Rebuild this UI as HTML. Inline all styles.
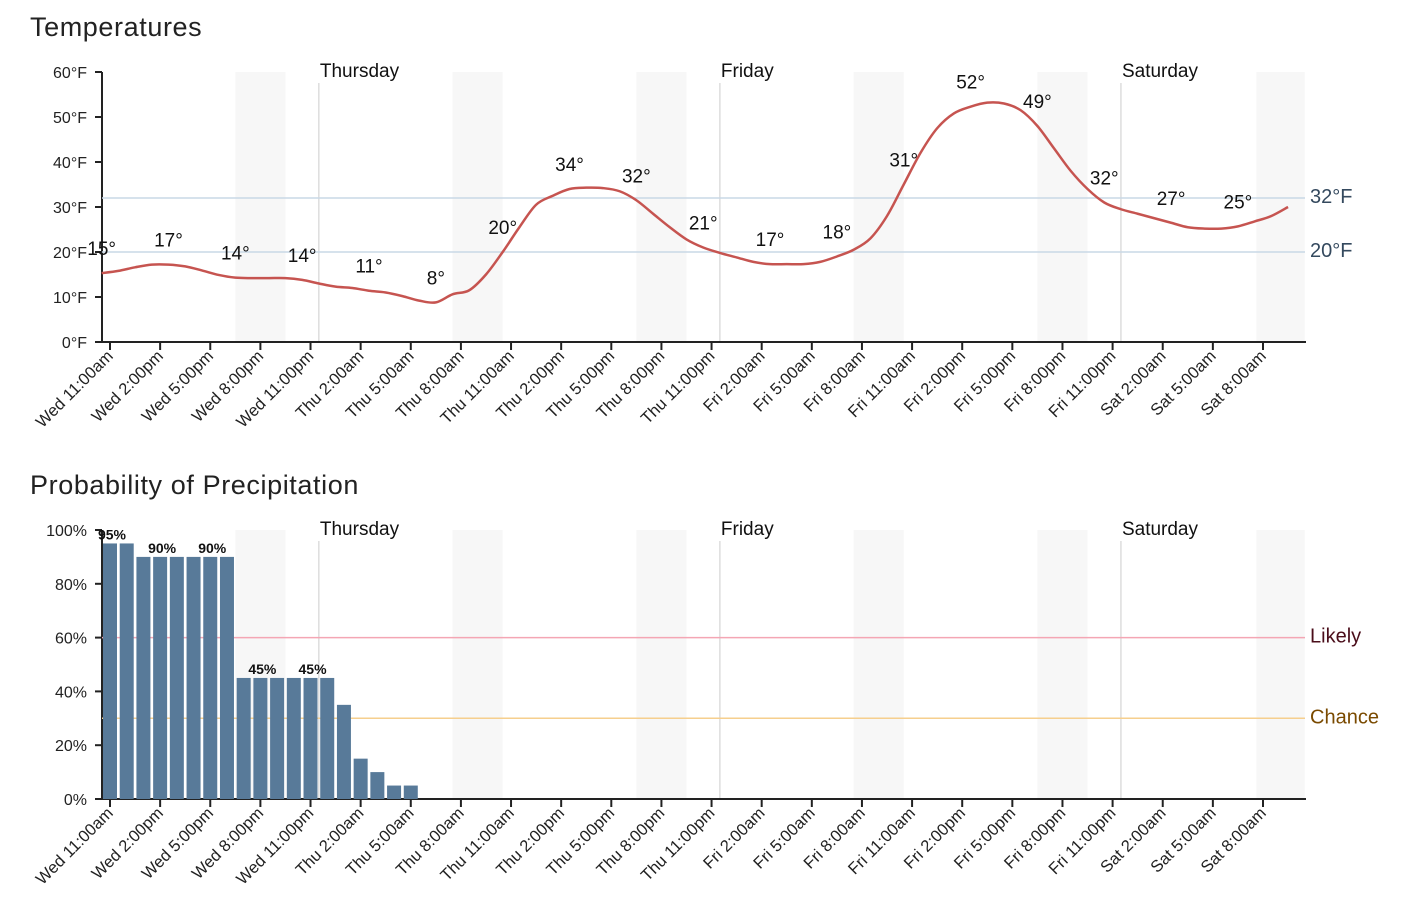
<!DOCTYPE html>
<html><head><meta charset="utf-8"><style>
body{margin:0;background:#fff;width:1404px;height:908px;overflow:hidden;font-family:"Liberation Sans",sans-serif}
svg text{font-family:"Liberation Sans",sans-serif}
</style></head><body>
<svg id="s" width="1404" height="908"></svg>
<script>
const temps=[15.3,15.8,16.6,17.2,17.2,16.8,15.9,14.9,14.3,14.2,14.2,14.2,13.8,13,12.3,12,11.4,11,10.2,9.2,8.8,10.6,11.5,15,20,25.5,30.5,32.5,34,34.3,34.2,33.5,31.5,28.5,25.5,22.8,21,19.8,18.8,17.8,17.3,17.3,17.3,17.8,19,20.5,23,28,35,42,47.5,50.8,52.3,53.2,53,51.5,48,43,38,34,31,29.5,28.5,27.5,26.5,25.5,25.2,25.2,25.7,26.8,28,30];
const tempLabels=[15,17,14,14,11,8,20,34,32,21,17,18,31,52,49,32,27,25];
const precip=[95,95,90,90,90,90,90,90,45,45,45,45,45,45,35,15,10,5,5];
const precipLabels={0:"95%",3:"90%",6:"90%",9:"45%",12:"45%"};
const tickLabels=["Wed 11:00am","Wed 2:00pm","Wed 5:00pm","Wed 8:00pm","Wed 11:00pm","Thu 2:00am","Thu 5:00am","Thu 8:00am","Thu 11:00am","Thu 2:00pm","Thu 5:00pm","Thu 8:00pm","Thu 11:00pm","Fri 2:00am","Fri 5:00am","Fri 8:00am","Fri 11:00am","Fri 2:00pm","Fri 5:00pm","Fri 8:00pm","Fri 11:00pm","Sat 2:00am","Sat 5:00am","Sat 8:00am"];
const shades=[[7.5,10.5],[20.5,23.5],[31.5,34.5],[44.5,47.5],[55.5,58.5],[68.6,71.5]];
const days=[["Thursday",12.5],["Friday",36.5],["Saturday",60.5]];
const tempTicks=[0,10,20,30,40,50,60];
const precipTicks=[0,20,40,60,80,100];

const S=document.getElementById('s');const NS='http://www.w3.org/2000/svg';
function el(t,a,p){const e=document.createElementNS(NS,t);for(const k in a)e.setAttribute(k,a[k]);(p||S).appendChild(e);return e;}
const X0=102,X1=1305;
const x=h=>110+16.71*h;

function frame(top,bot,title,titleY){
  const t=el('text',{x:30,y:titleY,'font-size':27,fill:'#222','letter-spacing':'0.6'});t.textContent=title;
  
  
  shades.forEach(s=>{const r=el('rect',{x:x(s[0]),y:top,width:x(s[1])-x(s[0]),height:bot-top,fill:'#f7f7f7'});
    
    });
  days.forEach(d=>{const l=el('line',{x1:x(d[1]),x2:x(d[1]),y1:top+11,y2:bot,stroke:'#ccc'});
    
    
    const tx=el('text',{x:x(d[1])+1,y:top+5,'font-size':19,fill:'#111'});tx.textContent=d[0];
    
    });
  tickLabels.forEach((lb,i)=>{const xx=x(i*3);
    el('line',{x1:xx,x2:xx,y1:bot,y2:bot+8,stroke:'#222','stroke-width':2});
    const tx=el('text',{transform:`translate(${xx+4},${bot+15}) rotate(-45)`,'text-anchor':'end','font-size':16.5,fill:'#222'});tx.textContent=lb;
    
    });
  el('line',{x1:X0,x2:X0,y1:top,y2:bot+1,stroke:'#222','stroke-width':2});
  const ax=el('line',{x1:X0-1,x2:X1+1,y1:bot,y2:bot,stroke:'#222','stroke-width':2});
  
  
}
// Temperature chart
const tT=72,tB=342,ty=v=>tB-(v/60)*(tB-tT);
frame(tT,tB,'Temperatures',36);
tempTicks.forEach(v=>{el('line',{x1:X0-7,x2:X0,y1:ty(v),y2:ty(v),stroke:'#222','stroke-width':2});
  const t=el('text',{x:X0-15,y:ty(v)+6,'text-anchor':'end','font-size':16,fill:'#222'});t.textContent=v+'°F';
  
  });
[[32,'32°F'],[20,'20°F']].forEach(r=>{const l=el('line',{x1:X0,x2:X1,y1:ty(r[0]),y2:ty(r[0]),stroke:'#c9d8e6','stroke-width':1.5});
  
  
  const t=el('text',{x:1310,y:ty(r[0])+5,'font-size':20,fill:'#34495e'});t.textContent=r[1];
  
  });
let pts=temps.map((v,i)=>[x(i-0.5),ty(v)]);
let d='M'+pts[0];
for(let i=1;i<pts.length;i++){const p0=pts[Math.max(0,i-2)],p1=pts[i-1],p2=pts[i],p3=pts[Math.min(pts.length-1,i+1)];
  d+=`C${p1[0]+(p2[0]-p0[0])/6},${p1[1]+(p2[1]-p0[1])/6} ${p2[0]-(p3[0]-p1[0])/6},${p2[1]-(p3[1]-p1[1])/6} ${p2[0]},${p2[1]}`;}
const line=el('path',{d:d,fill:'none',stroke:'#c65450','stroke-width':2.5});


tempLabels.forEach((v,k)=>{const i=k*4;const t=el('text',{x:x(i-0.5),y:ty(temps[i])-18,'text-anchor':'middle','font-size':19,fill:'#111'});t.textContent=v+'°';
  
  });
// Precip chart
const pT=530,pB=799,py=v=>pB-(v/100)*(pB-pT);
frame(pT,pB,'Probability of Precipitation',494);
precipTicks.forEach(v=>{el('line',{x1:X0-7,x2:X0,y1:py(v),y2:py(v),stroke:'#222','stroke-width':2});
  const t=el('text',{x:X0-15,y:py(v)+6,'text-anchor':'end','font-size':16,fill:'#222'});t.textContent=v+'%';
  
  });
[[60,'Likely','#f4a6b4','#4a0d1a'],[30,'Chance','#f6cf8e','#7a4a00']].forEach(r=>{const l=el('line',{x1:X0,x2:X1,y1:py(r[0]),y2:py(r[0]),stroke:r[2],'stroke-width':1.5});
  
  
  const t=el('text',{x:1310,y:py(r[0])+5,'font-size':20,fill:r[3]});t.textContent=r[1];
  
  });
precip.forEach((v,i)=>{const b=el('rect',{x:x(i)-7,y:py(v),width:14,height:pB-py(v),fill:'#587a99'});
  
  
  if(precipLabels[i]){const t=el('text',{x:x(i)+2,y:py(v)-4,'text-anchor':'middle','font-size':14,'font-weight':'bold',fill:'#111'});t.textContent=precipLabels[i];
    
    }});
</script>
</body></html>
